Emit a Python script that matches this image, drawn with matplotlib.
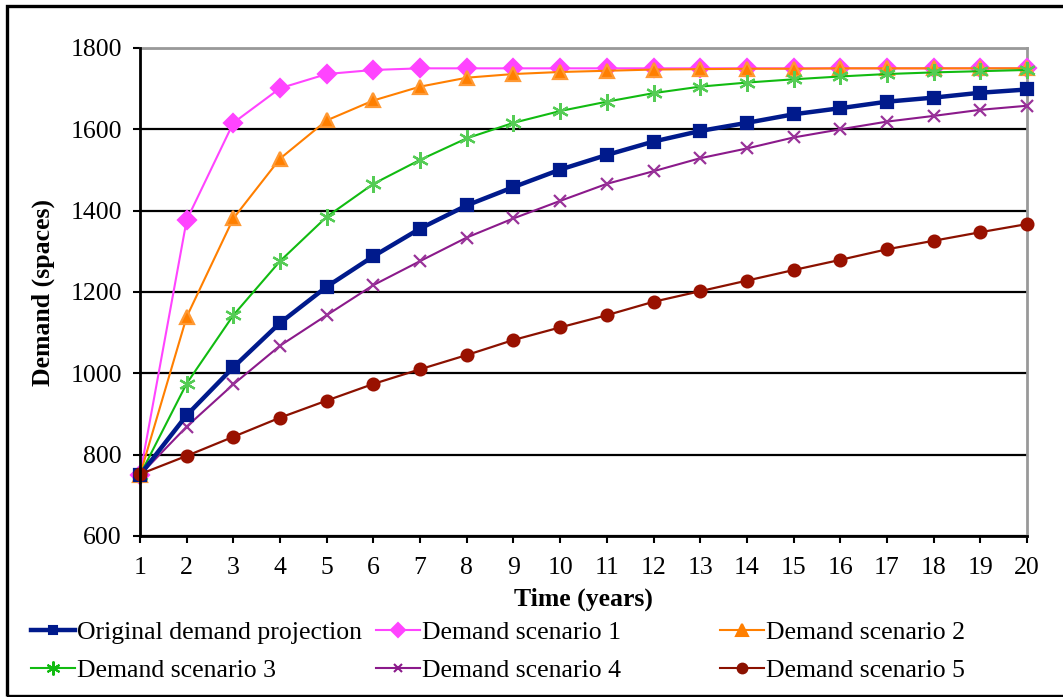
import matplotlib
matplotlib.use('Agg')
import matplotlib.pyplot as plt
from matplotlib.patches import Rectangle
from matplotlib.lines import Line2D

plt.rcParams['font.family'] = ['Liberation Serif', 'DejaVu Serif']

years = list(range(1, 21))

original = [750, 897, 1015, 1124, 1213, 1288, 1356, 1413, 1458, 1501,
            1537, 1570, 1596, 1616, 1637, 1652, 1668, 1678, 1690, 1698]
scenario1 = [750, 1377, 1616, 1701, 1736, 1746, 1750, 1750, 1750, 1750,
             1750, 1750, 1750, 1750, 1750, 1750, 1750, 1750, 1750, 1750]
scenario2 = [750, 1139, 1381, 1528, 1622, 1671, 1705, 1727, 1736, 1741,
             1744, 1747, 1748, 1749, 1749, 1750, 1750, 1750, 1750, 1750]
scenario3 = [750, 975, 1143, 1276, 1385, 1466, 1525, 1578, 1616, 1645,
             1668, 1689, 1705, 1715, 1723, 1730, 1736, 1740, 1743, 1746]
scenario4 = [750, 869, 973, 1068, 1143, 1217, 1276, 1334, 1381, 1424,
             1466, 1497, 1529, 1553, 1580, 1600, 1619, 1633, 1648, 1658]
scenario5 = [752, 797, 844, 891, 933, 974, 1010, 1045, 1082, 1113,
             1143, 1176, 1202, 1228, 1254, 1279, 1305, 1326, 1347, 1367]

labels = ['Original demand projection', 'Demand scenario 1', 'Demand scenario 2',
          'Demand scenario 3', 'Demand scenario 4', 'Demand scenario 5']

W, H = 1063, 697
FS = 18.5
fig = plt.figure(figsize=(W / 100, H / 100), dpi=100)
ax = fig.add_axes([140 / W, 1 - 536 / H, 887 / W, 488 / H])

# series: data, line colour, marker, marker face, marker edge, marker size, line width
styles = [
    (scenario1, '#ff44ff', 'D', '#ff44ff', '#ff44ff', 9, 1.5),
    (scenario2, '#ff7f00', '^', '#ff7f00', '#ff9933', 10, 1.5),
    (scenario3, '#11bb11', (6, 2, 0), '#55cc55', '#55cc55', 12, 1.5),
    (scenario4, '#8b1a8b', 'x', '#cc77cc', '#993399', 9, 1.5),
    (original, '#001a8c', 's', '#001a8c', '#001a8c', 9, 3.2),
    (scenario5, '#8b1100', 'o', '#991100', '#991100', 8.5, 1.6),
]
for data, c, m, mfc, mec, ms, lw in styles:
    ax.plot(years, data, color=c, lw=lw, marker=m, mfc=mfc, mec=mec,
            ms=ms, mew=1.6, zorder=3, clip_on=False)

ax.set_xlim(1, 20)
ax.set_ylim(600, 1800)
ax.set_xticks(years)
ax.set_yticks(range(600, 1801, 200))
ax.yaxis.grid(True, color='black', lw=1.6, zorder=1)
ax.set_axisbelow(True)
ax.tick_params(axis='both', direction='out', length=5, width=1.5, labelsize=FS)
ax.tick_params(axis='y', pad=8)
ax.tick_params(axis='x', pad=10)
for s in ['left', 'bottom']:
    ax.spines[s].set_linewidth(2)
    ax.spines[s].set_color('black')
for s in ['top', 'right']:
    ax.spines[s].set_linewidth(2)
    ax.spines[s].set_color('#999999')
ax.spines['left'].set_zorder(4)
ax.spines['bottom'].set_zorder(4)

ax.set_xlabel('Time (years)', fontsize=FS, fontweight='bold', labelpad=6)
ax.set_ylabel('Demand (spaces)', fontsize=FS, fontweight='bold', labelpad=11)

# legend: three columns placed separately to match spacing
handle_specs = {
    labels[0]: ('#001a8c', 's', '#001a8c', '#001a8c', 6, 3.2),
    labels[1]: ('#ff44ff', 'D', '#ff44ff', '#ff44ff', 7, 1.5),
    labels[2]: ('#ff7f00', '^', '#ff7f00', '#ff7f00', 8, 1.5),
    labels[3]: ('#11bb11', (6, 2, 0), '#11bb11', '#11bb11', 10, 1.5),
    labels[4]: ('#8b1a8b', 'x', '#8b1a8b', '#8b1a8b', 6, 1.5),
    labels[5]: ('#8b1100', 'o', '#8b1100', '#8b1100', 7, 1.5),
}
columns = [(labels[0], labels[3], 31), (labels[1], labels[4], 376), (labels[2], labels[5], 720)]
for top, bottom, x0 in columns:
    hs = []
    for lab in (top, bottom):
        c, m, mfc, mec, ms, lw = handle_specs[lab]
        hs.append(Line2D([], [], color=c, marker=m, mfc=mfc, mec=mec, ms=ms, lw=lw, mew=1.5))
    leg = fig.legend(hs, [top, bottom], loc='upper left',
                     bbox_to_anchor=(x0 / W, 1 - 621 / H), frameon=False,
                     fontsize=FS, handlelength=1.7, handletextpad=0.1,
                     labelspacing=0.6, borderpad=0, borderaxespad=0)

fig.patches.append(Rectangle((7 / W, 1.5 / H), 1.1, 1 - 7.5 / H, transform=fig.transFigure,
                             fill=False, edgecolor='black', lw=2.4))

fig.savefig('out.png', dpi=100)
